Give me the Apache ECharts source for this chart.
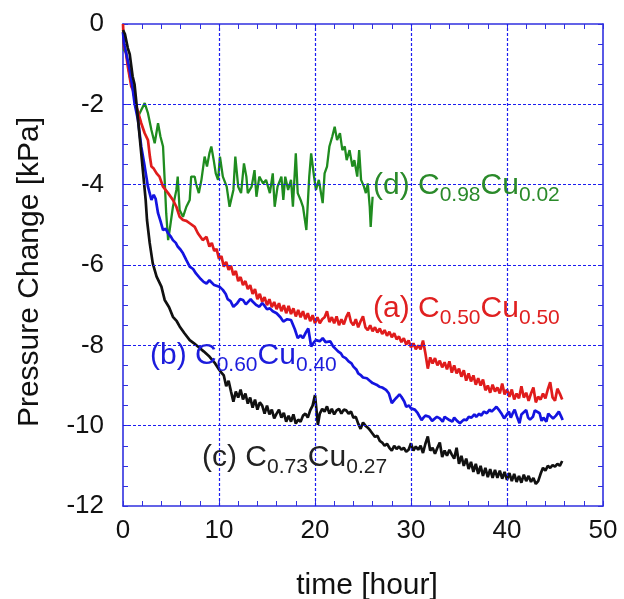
<!DOCTYPE html>
<html>
<head>
<meta charset="utf-8">
<script src="https://cdn.jsdelivr.net/npm/echarts@6/dist/echarts.min.js"></script>
<style>html,body{margin:0;padding:0;background:#fff}#c{width:624px;height:599px}</style>
</head>
<body>
<div id="c"></div>
<script>
// ---- Data (time [hour], pressure change [kPa]) ----
const seriesNames = ['(a) C0.50Cu0.50', '(b) C0.60Cu0.40', '(c) C0.73Cu0.27', '(d) C0.98Cu0.02'];
const xTicks = [0, 10, 20, 30, 40, 50];
const yTicks = [0, -2, -4, -6, -8, -10, -12];
const xGrid = [10, 20, 30, 40];
const yGrid = [-2, -4, -6, -8, -10];

const dataA = [[0,0],[0.1,-0.56],[0.3,-0.7],[0.5,-1.06],[0.87,-1.56],[1.04,-1.64],[1.4,-2.06],[1.9,-2.47],[2.26,-2.72],[2.6,-2.89],[2.8,-3.3],[2.96,-3.55],[3.2,-3.6],[3.5,-3.72],[3.8,-3.8],[4.17,-4.05],[4.7,-4.21],[5.2,-4.38],[5.56,-4.55],[5.9,-4.8],[6.25,-4.88],[6.6,-4.9],[6.95,-4.96],[7.47,-5.05],[7.8,-5.21],[8.3,-5.38],[8.7,-5.3],
[9.0,-5.54],[9.25,-5.45],[9.5,-5.65],[9.75,-5.6],[10.0,-5.85],[10.25,-5.78],[10.5,-6.04],[10.75,-5.92],[11.0,-6.12],[11.25,-6.02],[11.5,-6.25],[11.75,-6.15],[12.0,-6.4],[12.25,-6.3],[12.5,-6.5],[12.75,-6.4],[13.0,-6.6],[13.25,-6.5],[13.5,-6.72],[13.75,-6.6],[14.0,-6.85],[14.25,-6.72],[14.5,-6.92],[14.75,-6.8],[15.0,-7.0],[15.25,-6.85],[15.5,-7.05],[15.75,-6.92],[16.0,-7.1],[16.25,-6.95],[16.5,-7.15],[16.75,-7.0],[17.0,-7.2],[17.25,-7.02],[17.5,-7.22],[17.75,-7.08],[18.0,-7.28],[18.25,-7.12],[18.5,-7.3],[18.75,-7.15],[19.0,-7.35],[19.25,-7.2],[19.5,-7.4],[19.75,-7.25],[20.0,-7.45],[20.25,-7.3],[20.5,-7.45],[20.75,-7.35],[21.0,-7.3],[21.25,-7.15],[21.5,-7.42],[21.75,-7.3],[22.0,-7.45],[22.25,-7.28],[22.5,-7.5],[22.75,-7.35],[23.0,-7.48],[23.25,-7.3],[23.5,-7.18],[23.75,-7.42],[24.0,-7.5],[24.25,-7.35],[24.5,-7.55],[24.75,-7.4],[25.0,-7.28],[25.25,-7.55],[25.5,-7.62],[25.75,-7.5],[26.0,-7.65],[26.25,-7.55],[26.5,-7.68],[26.75,-7.58],[27.0,-7.72],[27.25,-7.62],[27.5,-7.76],[27.75,-7.66],[28.0,-7.8],[28.25,-7.7],[28.5,-7.85],[28.75,-7.78],[29.0,-7.92],[29.25,-7.82],[29.5,-7.98],[29.75,-7.88],[30.0,-8.05],[30.25,-7.95],[30.5,-8.1],[30.75,-8.0],[31.0,-8.1],[31.25,-7.88],[31.5,-8.2],[31.75,-8.58],[32.0,-8.3],[32.25,-8.45],[32.5,-8.32],[32.75,-8.5],[33.0,-8.38],[33.25,-8.55],[33.5,-8.42],[33.75,-8.6],[34.0,-8.4],[34.25,-8.68],[34.5,-8.5],[34.75,-8.7],[35.0,-8.58],[35.25,-8.78],[35.5,-8.62],[35.75,-8.88],[36.0,-8.7],[36.25,-8.9],[36.5,-8.75],[36.75,-8.98],[37.0,-8.82],[37.25,-9.0],[37.5,-8.85],[37.75,-9.12],[38.0,-9.0],[38.25,-9.18],[38.5,-8.98],[38.75,-9.15],[39.0,-9.05],[39.25,-9.2],[39.5,-8.95],[39.75,-9.22],[40.0,-9.1],[40.25,-9.28],[40.5,-9.1],[40.75,-9.35],[41.0,-9.2],[41.25,-9.32],[41.5,-9.02],[41.75,-9.3],[42.0,-9.18],[42.25,-9.38],[42.5,-9.2],[42.75,-9.05],[43.0,-9.42],[43.25,-9.28],[43.5,-9.35],[43.75,-9.2],[44.0,-9.32],[44.25,-9.1],[44.5,-8.92],[44.75,-9.3],[45.0,-9.38],[45.25,-9.08],[45.5,-9.2],[45.75,-9.35]];

const dataB = [[0,-0.2],[0.1,-0.48],[0.4,-0.8],[0.7,-1.15],[1.0,-1.6],[1.2,-1.97],[1.56,-2.39],[1.9,-3.05],[2.26,-3.55],[2.6,-4.05],[2.96,-4.38],[3.2,-4.25],[3.4,-4.35],[3.65,-4.71],[3.9,-4.9],[4.17,-5.13],[4.45,-5.1],[4.7,-5.21],[5.0,-5.3],[5.2,-5.38],[5.5,-5.45],[5.7,-5.54],[6.0,-5.62],[6.25,-5.71],[6.6,-5.88],[6.95,-6.04],[7.3,-6.1],[7.6,-6.21],[8.1,-6.35],[8.4,-6.42],[8.7,-6.46],[9.0,-6.38],[9.2,-6.4],[9.5,-6.5],[9.7,-6.46],[10.1,-6.55],[10.4,-6.62],[10.7,-6.72],[10.9,-6.85],[11.2,-6.9],[11.5,-7.04],[11.9,-6.95],[12.2,-6.85],[12.5,-6.87],[12.8,-6.98],[13.0,-6.95],[13.3,-6.85],[13.5,-6.91],[13.9,-7.0],[14.2,-7.04],[14.5,-6.95],[14.7,-7.0],[15.0,-7.1],[15.3,-7.08],[15.6,-7.15],[16.0,-7.2],[16.4,-7.3],[16.7,-7.41],[17.1,-7.35],[17.5,-7.37],[17.9,-7.6],[18.2,-7.82],[18.5,-7.75],[18.75,-7.82],[19.0,-7.7],[19.3,-7.58],[19.6,-8.03],[19.9,-7.92],[20.1,-7.87],[20.5,-7.9],[20.8,-7.82],[21.1,-7.92],[21.3,-7.95],[21.6,-7.9],[21.9,-8.03],[22.2,-8.1],[22.4,-8.15],[22.7,-8.2],[22.9,-8.28],[23.2,-8.32],[23.5,-8.4],[23.8,-8.45],[24.0,-8.53],[24.3,-8.6],[24.5,-8.7],[24.8,-8.75],[25.0,-8.8],[25.4,-8.82],[25.7,-8.88],[26.0,-8.94],[26.4,-8.98],[26.7,-9.03],[27.0,-9.05],[27.4,-9.11],[27.7,-9.2],[28.0,-9.44],[28.3,-9.35],[28.5,-9.3],[28.8,-9.22],[29.0,-9.28],[29.3,-9.4],[29.5,-9.53],[29.8,-9.5],[30.0,-9.57],[30.4,-9.6],[30.7,-9.69],[31.1,-9.86],[31.3,-9.8],[31.5,-9.75],[31.9,-9.78],[32.2,-9.88],[32.4,-9.85],[32.7,-9.78],[33.0,-9.82],[33.3,-9.9],[33.5,-9.78],[34.0,-9.86],[34.3,-9.9],[34.5,-9.8],[34.8,-9.88],[35.1,-9.94],[35.5,-9.85],[35.8,-9.86],[36.0,-9.78],[36.3,-9.8],[36.6,-9.72],[36.8,-9.78],[37.1,-9.7],[37.3,-9.75],[37.6,-9.65],[37.9,-9.69],[38.2,-9.6],[38.4,-9.65],[38.7,-9.58],[38.9,-9.53],[39.2,-9.62],[39.4,-9.69],[39.7,-9.82],[39.9,-9.78],[40.2,-9.65],[40.4,-9.8],[40.6,-9.69],[40.8,-9.6],[41.0,-9.75],[41.3,-9.94],[41.5,-9.72],[41.7,-9.7],[42.0,-9.61],[42.2,-9.8],[42.4,-9.85],[42.7,-9.78],[42.9,-9.62],[43.1,-9.65],[43.4,-9.69],[43.6,-9.88],[43.8,-9.8],[44.1,-9.9],[44.3,-9.7],[44.5,-9.75],[44.8,-9.82],[45.1,-9.75],[45.4,-9.65],[45.6,-9.75],[45.8,-9.86]];

const dataC = [[0,-0.15],[0.2,-0.25],[0.5,-0.6],[0.7,-0.75],[1.0,-1.3],[1.2,-1.5],[1.4,-1.97],[1.67,-2.64],[1.9,-3.22],[2.1,-3.72],[2.36,-4.38],[2.5,-4.88],[2.78,-5.45],[3.1,-5.96],[3.5,-6.29],[4.0,-6.54],[4.34,-6.87],[4.8,-7.05],[5.2,-7.29],[5.6,-7.4],[5.9,-7.53],[6.4,-7.7],[6.95,-7.87],[7.4,-7.95],[7.8,-8.03],[8.4,-8.15],[9.0,-8.28],[9.6,-8.45],
[10.0,-8.6],[10.25,-8.68],[10.5,-8.75],[10.75,-9.02],[11.0,-8.88],[11.25,-9.15],[11.5,-9.4],[11.75,-9.15],[12.0,-9.3],[12.25,-9.1],[12.5,-9.35],[12.75,-9.2],[13.0,-9.45],[13.25,-9.3],[13.5,-9.55],[13.75,-9.35],[14.0,-9.6],[14.25,-9.42],[14.5,-9.5],[14.75,-9.7],[15.0,-9.5],[15.25,-9.72],[15.5,-9.6],[15.75,-9.82],[16.0,-9.7],[16.25,-9.6],[16.5,-9.8],[16.75,-9.68],[17.0,-9.9],[17.25,-9.75],[17.5,-9.9],[17.75,-9.72],[18.0,-9.95],[18.25,-9.85],[18.5,-9.9],[18.75,-9.75],[19.0,-9.7],[19.25,-9.8],[19.5,-9.62],[19.75,-9.5],[20.0,-9.24],[20.15,-9.6],[20.3,-9.98],[20.5,-9.7],[20.75,-9.58],[21.0,-9.65],[21.25,-9.52],[21.5,-9.7],[21.75,-9.58],[22.0,-9.72],[22.25,-9.62],[22.5,-9.58],[22.75,-9.7],[23.0,-9.6],[23.25,-9.62],[23.5,-9.7],[23.75,-9.65],[24.0,-9.8],[24.25,-9.78],[24.5,-9.95],[24.75,-10.08],[25.0,-9.92],[25.25,-10.0],[25.5,-10.05],[25.75,-10.12],[26.0,-10.2],[26.25,-10.28],[26.5,-10.25],[26.75,-10.38],[27.0,-10.42],[27.25,-10.5],[27.5,-10.45],[27.75,-10.55],[28.0,-10.62],[28.25,-10.5],[28.5,-10.58],[28.75,-10.52],[29.0,-10.6],[29.25,-10.55],[29.5,-10.65],[29.75,-10.6],[30.0,-10.44],[30.25,-10.62],[30.5,-10.52],[30.75,-10.6],[31.0,-10.5],[31.25,-10.68],[31.5,-10.45],[31.75,-10.27],[32.0,-10.62],[32.25,-10.55],[32.5,-10.7],[32.75,-10.55],[33.0,-10.42],[33.25,-10.78],[33.5,-10.62],[33.75,-10.75],[34.0,-10.6],[34.25,-10.72],[34.5,-10.82],[34.75,-10.55],[35.0,-10.95],[35.25,-10.75],[35.5,-11.0],[35.75,-10.82],[36.0,-11.08],[36.25,-10.9],[36.5,-11.15],[36.75,-10.95],[37.0,-11.2],[37.25,-11.0],[37.5,-11.25],[37.75,-11.05],[38.0,-11.28],[38.25,-11.08],[38.5,-11.3],[38.75,-11.1],[39.0,-11.3],[39.25,-11.12],[39.5,-11.32],[39.75,-11.15],[40.0,-11.35],[40.25,-11.18],[40.5,-11.38],[40.75,-11.2],[41.0,-11.4],[41.25,-11.25],[41.5,-11.42],[41.75,-11.22],[42.0,-11.38],[42.25,-11.25],[42.5,-11.4],[42.75,-11.3],[43.0,-11.45],[43.25,-11.38],[43.5,-11.2],[43.75,-11.05],[44.0,-11.12],[44.25,-11.0],[44.5,-11.05],[44.75,-10.98],[45.0,-11.02],[45.25,-10.95],[45.5,-11.0],[45.75,-10.88]];

const dataD = [[0,-0.2],[0.1,-0.65],[0.3,-0.7],[0.5,-0.98],[0.7,-1.31],[1.04,-1.56],[1.2,-1.89],[1.56,-2.31],[1.9,-2.14],[2.26,-1.97],[2.6,-2.22],[2.96,-2.64],[3.3,-2.97],[3.65,-2.47],[3.9,-2.8],[4.17,-3.05],[4.34,-3.88],[4.5,-4.71],[4.7,-5.38],[4.86,-5.13],[5.2,-4.55],[5.56,-4.13],[5.7,-3.8],[5.9,-4.63],[6.25,-4.8],[6.6,-4.55],[6.95,-4.38],[7.1,-3.8],[7.47,-3.8],[7.6,-3.97],[7.9,-4.21],[8.17,-3.88],[8.5,-3.3],[8.75,-3.55],[9.0,-3.22],[9.2,-3.05],[9.45,-3.39],[9.66,-3.72],[9.9,-3.88],[10.1,-3.3],[10.4,-3.8],[10.8,-4.05],[11.1,-4.55],[11.5,-4.13],[11.7,-3.3],[12.0,-4.05],[12.3,-4.21],[12.6,-3.47],[12.85,-3.8],[13.0,-4.21],[13.4,-4.05],[13.7,-3.64],[13.9,-4.3],[14.2,-3.8],[14.6,-3.97],[14.9,-3.88],[15.3,-4.21],[15.6,-3.72],[15.8,-4.55],[16.1,-4.05],[16.5,-3.8],[16.7,-4.38],[16.9,-3.8],[17.2,-4.13],[17.5,-3.88],[17.7,-4.55],[18.0,-3.22],[18.2,-4.21],[18.5,-4.38],[18.75,-4.55],[19.1,-5.13],[19.4,-3.8],[19.6,-3.22],[19.9,-3.8],[20.1,-4.13],[20.4,-3.88],[20.8,-4.46],[21.0,-3.72],[21.25,-3.55],[21.5,-3.05],[21.8,-2.8],[22.05,-2.56],[22.3,-2.89],[22.6,-2.72],[22.85,-3.14],[23.1,-3.05],[23.3,-3.39],[23.6,-3.14],[23.9,-3.55],[24.1,-3.39],[24.4,-3.8],[24.6,-3.14],[24.8,-3.88],[25.1,-4.05],[25.3,-4.21],[25.5,-3.97],[25.7,-4.55],[25.8,-5.05],[26.0,-4.3]];

// ---- Styling ----
const FONT = 'Liberation Sans, Arial, sans-serif';
const AXIS_BLUE = '#3030e0';
const GRID_BLUE = '#1c1cf0';
const colA = '#e01c1c', colB = '#1414e0', colC = '#111111', colD = '#1f8c1f';
const GRID_RECT = { left: 123, top: 24, right: 21, bottom: 93, containLabel: false };
const PLOT_W = 624 - 123 - 21, PLOT_H = 599 - 24 - 93;

// Frame/label axes (grid 0): axis line + labels, no ticks
function frameAxis(position, min, max, interval, labelTicks, margin) {
  return {
    type: 'value', gridIndex: 0, position: position, min: min, max: max, interval: interval,
    axisLine: { show: true, onZero: false, lineStyle: { color: AXIS_BLUE, width: 1.6 } },
    axisTick: { show: false }, minorTick: { show: false }, splitLine: { show: false },
    axisLabel: {
      show: !!labelTicks, color: '#111', fontFamily: FONT, fontSize: 26, margin: margin || 8,
      formatter: v => String(Math.round(v))
    }
  };
}
// Tick axes (grid 1): placed on the opposite edge via offset so outward ticks point into the plot
function tickAxis(position, min, max, interval, offset) {
  return {
    type: 'value', gridIndex: 1, position: position, offset: offset, min: min, max: max, interval: interval,
    axisLine: { show: false, onZero: false },
    axisTick: { show: true, inside: false, length: 5, lineStyle: { color: AXIS_BLUE, width: 1 } },
    minorTick: { show: false }, splitLine: { show: false }, axisLabel: { show: false }
  };
}

function lineSeries(name, data, color, w) {
  return {
    name: name, type: 'line', data: data, xAxisIndex: 0, yAxisIndex: 0,
    showSymbol: false, symbol: 'none', smooth: false,
    lineStyle: { color: color, width: w }, z: 3
  };
}

// dotted grid lines as data-driven markLines
const gridSeries = {
  type: 'line', data: [], xAxisIndex: 0, yAxisIndex: 0, silent: true, z: 1,
  markLine: {
    silent: true, symbol: ['none', 'none'], label: { show: false },
    lineStyle: { color: GRID_BLUE, type: [3, 2], width: 1.2, opacity: 1 },
    emphasis: { disabled: true },
    data: xGrid.map(v => ({ xAxis: v })).concat(yGrid.map(v => ({ yAxis: v })))
  }
};

function subLabel(x, y, pre, s1, s2, color) {
  return {
    type: 'text', x: x, y: y, z: 10,
    style: {
      text: '{m|' + pre + 'C}{s|' + s1 + '}{m|Cu}{s|' + s2 + '}',
      align: 'left', verticalAlign: 'middle',
      rich: {
        m: { fontFamily: FONT, fontSize: 30, lineHeight: 40, fill: color, color: color },
        s: { fontFamily: FONT, fontSize: 21, lineHeight: 20, verticalAlign: 'bottom', fill: color, color: color }
      }
    }
  };
}

const chart = echarts.init(document.getElementById('c'), null, { renderer: 'canvas' });
chart.setOption({
  animation: false,
  backgroundColor: '#ffffff',
  grid: [GRID_RECT, Object.assign({}, GRID_RECT)],
  xAxis: [
    frameAxis('bottom', 0, 50, 10, xTicks, 12),
    frameAxis('top', 0, 50, 10, null),
    tickAxis('top', 0, 50, 2, -PLOT_H),     // sits on bottom edge, ticks point up
    tickAxis('bottom', 0, 50, 2, -PLOT_H)   // sits on top edge, ticks point down
  ],
  yAxis: [
    frameAxis('left', -12, 0, 2, yTicks, 19),
    frameAxis('right', -12, 0, 2, null),
    tickAxis('right', -12, 0, 0.5, -PLOT_W), // sits on left edge, ticks point right
    tickAxis('left', -12, 0, 0.5, -PLOT_W)   // sits on right edge, ticks point left
  ],
  series: [
    gridSeries,
    lineSeries(seriesNames[3], dataD, colD, 2.3),
    lineSeries(seriesNames[0], dataA, colA, 2.7),
    lineSeries(seriesNames[1], dataB, colB, 2.7),
    lineSeries(seriesNames[2], dataC, colC, 2.7)
  ],
  graphic: [
    { type: 'text', x: 30, y: 272, rotation: Math.PI / 2, z: 10,
      style: { text: 'Pressure Change [kPa]', fontFamily: FONT, fontSize: 30, fill: '#111', align: 'center', verticalAlign: 'middle' } },
    { type: 'text', x: 367, y: 586, z: 10,
      style: { text: 'time [hour]', fontFamily: FONT, fontSize: 30, fill: '#111', align: 'center', verticalAlign: 'middle' } },
    subLabel(373, 186, '(d) ', '0.98', '0.02', '#2a8a2a'),
    subLabel(373, 309, '(a) ', '0.50', '0.50', '#e02020'),
    subLabel(150, 356, '(b) ', '0.60', '0.40', '#1c1cdc'),
    subLabel(202, 458, '(c) ', '0.73', '0.27', '#222222')
  ]
});
</script>
</body>
</html>
